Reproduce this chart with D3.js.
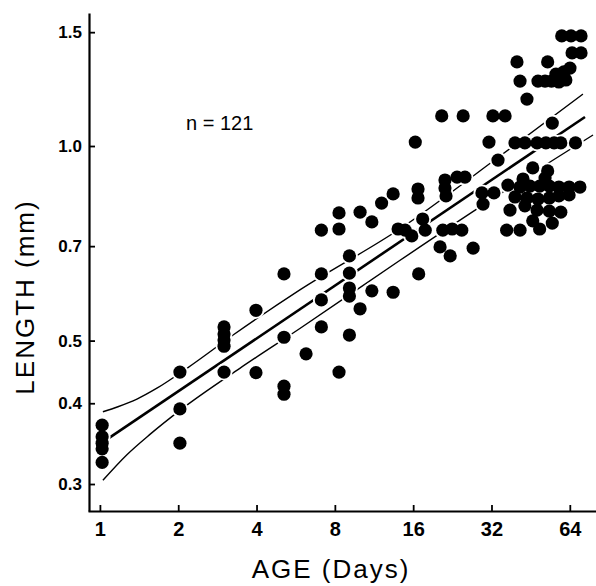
<!DOCTYPE html>
<html>
<head>
<meta charset="utf-8">
<script src="https://cdn.jsdelivr.net/npm/d3@7"></script>
<style>
  body { margin: 0; background: #fff; }
  svg { display: block; }
</style>
</head>
<body>
<svg id="chart"></svg>
<script>
// age (days) and length (mm) of each specimen
const ages = [
  1.02, 1.02, 1.02, 1.02, 1.02,
  2.03, 2.03, 2.03,
  3.0, 3.0, 3.0, 3.0, 3.0,
  3.98, 3.98,
  5.1, 5.1, 5.1, 5.1,
  6.2,
  7.1, 7.1, 7.1, 7.1,
  8.3, 8.3, 8.3,
  9.1, 9.1, 9.1, 9.1, 9.1,
  10.0, 10.0, 11.1, 11.1, 12.1, 13.4, 13.4,
  14.0, 14.9, 15.8, 17.4, 17.8,
  16.3, 16.7, 16.7, 16.8,
  20.6, 24.9, 32.4, 36.1, 31.3,
  21.2, 23.6, 25.3, 21.2, 21.4,
  20.8, 22.6, 24.6, 20.3, 22.2, 27.2,
  29.4, 32.7, 29.7, 33.9,
  40.1, 41.2, 43.8, 54.8,
  59.6, 64.7, 70.7, 65.3, 70.7,
  52.6, 56.6, 60.7, 64.1,
  48.3, 51.4, 54.4, 58.1, 61.8,
  39.4, 43.0, 47.9, 51.8, 55.7, 59.1, 67.3,
  46.1, 52.6,
  37.0, 41.2, 45.0, 49.0, 53.4, 58.1, 63.6, 70.0,
  42.3, 51.4,
  39.4, 43.8, 48.3, 53.4, 58.1, 63.6,
  43.0, 37.7, 59.1,
  47.9, 53.4, 46.1, 54.8, 49.0,
  36.6, 41.2
];
const lengths = [
  0.370, 0.355, 0.347, 0.340, 0.324,
  0.447, 0.392, 0.347,
  0.525, 0.512, 0.501, 0.490, 0.447,
  0.557, 0.446,
  0.634, 0.506, 0.425, 0.413,
  0.477,
  0.741, 0.634, 0.578, 0.525,
  0.788, 0.744, 0.447,
  0.676, 0.636, 0.603, 0.586, 0.510,
  0.790, 0.560, 0.763, 0.597, 0.816, 0.843, 0.594,
  0.744, 0.741, 0.726, 0.771, 0.741,
  1.014, 0.858, 0.831, 0.634,
  1.113, 1.113, 1.113, 1.113, 1.014,
  0.886, 0.895, 0.895, 0.861, 0.837,
  0.741, 0.744, 0.741, 0.698, 0.676, 0.695,
  0.846, 0.846, 0.813, 0.951,
  1.349, 1.260, 1.182, 1.085,
  1.480, 1.480, 1.480, 1.393, 1.393,
  1.349, 1.292, 1.302, 1.320,
  1.260, 1.260, 1.260, 1.256, 1.265,
  1.011, 1.011, 1.011, 1.011, 1.011, 1.011, 1.011,
  0.925, 0.915,
  0.870, 0.864, 0.867, 0.867, 0.867, 0.864, 0.864, 0.864,
  0.889, 0.892,
  0.834, 0.831, 0.828, 0.831, 0.837, 0.840,
  0.808, 0.796, 0.790,
  0.796, 0.793, 0.766, 0.760, 0.744,
  0.741, 0.741
];

// regression line and its bands
const fitAge = [1.03, 73.2];
const fitLen = [0.3485, 1.109];
const upperAge = [1.027, 1.173, 1.388, 1.656, 2.16, 3.25, 5.87, 14.2, 34.5, 71.9];
const upperLen = [0.388, 0.395, 0.406, 0.422, 0.453, 0.510, 0.599, 0.744, 0.965, 1.203];
const lowerAge = [1.027, 1.27, 1.557, 2.03, 3.45, 5.87, 14.2, 34.5, 78.6];
const lowerLen = [0.304, 0.333, 0.358, 0.390, 0.453, 0.522, 0.665, 0.843, 1.040];

const xTicks = [1, 2, 4, 8, 16, 32, 64];
const yTicks = [0.3, 0.4, 0.5, 0.7, 1.0, 1.5];

var width = 596, height = 586;

var svg = d3.select("#chart").attr("width", width).attr("height", height);

var x = d3.scaleLog().domain([0.9, 80.7]).range([88, 596]);
var y = d3.scaleLog().domain([0.2725, 1.606]).range([511, 13]);

var line = d3.line()
  .x(function(d) { return x(d[0]); })
  .y(function(d) { return y(d[1]); })
  .curve(d3.curveMonotoneX);

function pairs(a, b) { return a.map(function(v, i) { return [v, b[i]]; }); }

svg.append("path").datum(pairs(upperAge, upperLen))
  .attr("d", line).attr("fill", "none").attr("stroke", "#000").attr("stroke-width", 1.4);
svg.append("path").datum(pairs(lowerAge, lowerLen))
  .attr("d", line).attr("fill", "none").attr("stroke", "#000").attr("stroke-width", 1.4);
svg.append("path").datum(pairs(fitAge, fitLen))
  .attr("d", line).attr("fill", "none").attr("stroke", "#000").attr("stroke-width", 2.6);

var pts = pairs(ages, lengths);

// white halo so the lines break around the dots, like the original drawing
svg.append("g").selectAll("circle").data(pts).join("circle")
  .attr("cx", function(d) { return x(d[0]); })
  .attr("cy", function(d) { return y(d[1]); })
  .attr("r", 8.5).attr("fill", "#fff");

svg.append("g").selectAll("circle").data(pts).join("circle")
  .attr("cx", function(d) { return x(d[0]); })
  .attr("cy", function(d) { return y(d[1]); })
  .attr("r", 6.6).attr("fill", "#000");

// axes
var xAxis = svg.append("g")
  .attr("transform", "translate(0,511)")
  .call(d3.axisBottom(x).tickValues(xTicks).tickFormat(d3.format("d"))
    .tickSizeInner(-6).tickSizeOuter(0).tickPadding(11));
xAxis.selectAll("text")
  .attr("font-family", "Liberation Sans, Arial, sans-serif")
  .attr("font-size", 20).attr("font-weight", "bold").attr("fill", "#000");

var yAxis = svg.append("g")
  .attr("transform", "translate(89,0)")
  .call(d3.axisLeft(y).tickValues(yTicks).tickFormat(d3.format(".1f"))
    .tickSizeInner(-6).tickSizeOuter(0).tickPadding(7));
yAxis.selectAll("text")
  .attr("font-family", "Liberation Sans, Arial, sans-serif")
  .attr("font-size", 17).attr("font-weight", "bold").attr("fill", "#000");

svg.selectAll(".domain").attr("stroke", "#000").attr("stroke-width", 2.2);
svg.selectAll(".tick line").attr("stroke", "#000").attr("stroke-width", 1.8);

// titles
svg.append("text")
  .attr("x", 331).attr("y", 578)
  .attr("text-anchor", "middle")
  .attr("font-family", "Liberation Sans, Arial, sans-serif")
  .attr("font-size", 26).attr("letter-spacing", 2)
  .text("AGE  (Days)");

svg.append("text")
  .attr("transform", "translate(34,297) rotate(-90)")
  .attr("text-anchor", "middle")
  .attr("font-family", "Liberation Sans, Arial, sans-serif")
  .attr("font-size", 26).attr("letter-spacing", 2)
  .text("LENGTH  (mm)");

svg.append("text")
  .attr("x", 186).attr("y", 130)
  .attr("font-family", "Liberation Sans, Arial, sans-serif")
  .attr("font-size", 20)
  .text("n = 121");
</script>
</body>
</html>
